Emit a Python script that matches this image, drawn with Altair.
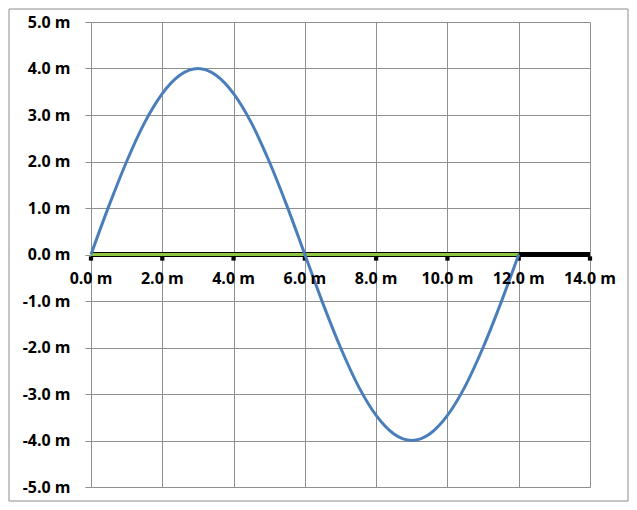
import altair as alt
import pandas as pd

# wave samples (metres)
wave_x = [0, 0.5, 1, 1.5, 2, 2.5, 3, 3.5, 4, 4.5, 5, 5.5, 6,
          6.5, 7, 7.5, 8, 8.5, 9, 9.5, 10, 10.5, 11, 11.5, 12]
wave_y = [0.0, 1.04, 2.0, 2.83, 3.46, 3.86, 4.0, 3.86, 3.46, 2.83, 2.0, 1.04, 0.0,
          -1.04, -2.0, -2.83, -3.46, -3.86, -4.0, -3.86, -3.46, -2.83, -2.0, -1.04, 0.0]

x_ticks = [0, 2, 4, 6, 8, 10, 12, 14]
x_labels = ["0.0 m", "2.0 m", "4.0 m", "6.0 m", "8.0 m", "10.0 m", "12.0 m", "14.0 m"]
y_ticks = [-5, -4, -3, -2, -1, 0, 1, 2, 3, 4, 5]

flat_start, flat_end = 0, 12
axis_start, axis_end = 0, 14

FONT = "Open Sans"
GRID = "#8f8f8f"

xs = alt.Scale(domain=[0, 14], nice=False, zero=False)
ys = alt.Scale(domain=[-5, 5], nice=False, zero=False)

x_axis = alt.Axis(
    values=x_ticks, grid=True, gridColor=GRID, gridWidth=1, labels=False,
    ticks=False, domain=False, title=None)
y_axis = alt.Axis(
    values=y_ticks, grid=True, gridColor=GRID, gridWidth=1,
    domain=True, domainColor=GRID, ticks=True, tickColor=GRID, tickSize=6,
    labelExpr="(datum.value < 0 ? '-' : '') + format(abs(datum.value), '.1f') + ' m'",
    labelFont=FONT, labelFontSize=16, labelFontWeight="bold",
    labelColor="black", labelPadding=15, title=None)

wave = pd.DataFrame({"x": wave_x, "y": wave_y})
ticks_df = pd.DataFrame({"x": x_ticks, "label": x_labels, "y": [0] * len(x_ticks)})
axis_df = pd.DataFrame({"x0": [axis_start], "x1": [axis_end], "y": [0]})
flat_df = pd.DataFrame({"x0": [flat_start], "x1": [flat_end], "y": [0]})

border = alt.Chart(pd.DataFrame({"a": [0]})).mark_rect(
    fillOpacity=0, stroke="#8c8c8c", strokeWidth=1
).encode(x=alt.value(-82), x2=alt.value(537), y=alt.value(-13), y2=alt.value(479))

wave_line = alt.Chart(wave).mark_line(
    color="#4a7ebb", strokeWidth=3, interpolate="monotone"
).encode(
    x=alt.X("x:Q", scale=xs, axis=x_axis),
    y=alt.Y("y:Q", scale=ys, axis=y_axis),
)

axis_rule = alt.Chart(axis_df).mark_rule(color="black", strokeWidth=5).encode(
    x=alt.X("x0:Q", scale=xs, axis=x_axis), x2="x1:Q",
    y=alt.Y("y:Q", scale=ys, axis=y_axis),
)

tick_marks = alt.Chart(ticks_df).mark_square(
    size=18, color="black", opacity=1, yOffset=4
).encode(
    x=alt.X("x:Q", scale=xs, axis=x_axis),
    y=alt.Y("y:Q", scale=ys, axis=y_axis),
)

flat_rule = alt.Chart(flat_df).mark_rule(color="#8fc640", strokeWidth=3).encode(
    x=alt.X("x0:Q", scale=xs, axis=x_axis), x2="x1:Q",
    y=alt.Y("y:Q", scale=ys, axis=y_axis),
)

x_text = alt.Chart(ticks_df).mark_text(
    font=FONT, fontSize=16, fontWeight="bold", color="black",
    baseline="middle", align="center", dy=24
).encode(
    x=alt.X("x:Q", scale=xs, axis=x_axis),
    y=alt.Y("y:Q", scale=ys, axis=y_axis),
    text="label:N",
)

chart = alt.layer(
    border, axis_rule, tick_marks, flat_rule, wave_line, x_text
).properties(
    width=499, height=465,
    autosize=alt.AutoSizeParams(type="none"),
    padding={"left": 83, "top": 14, "right": 39, "bottom": 15},
).configure_view(stroke=None)

chart.save("out.html", embed_options={"renderer": "svg", "actions": False})
